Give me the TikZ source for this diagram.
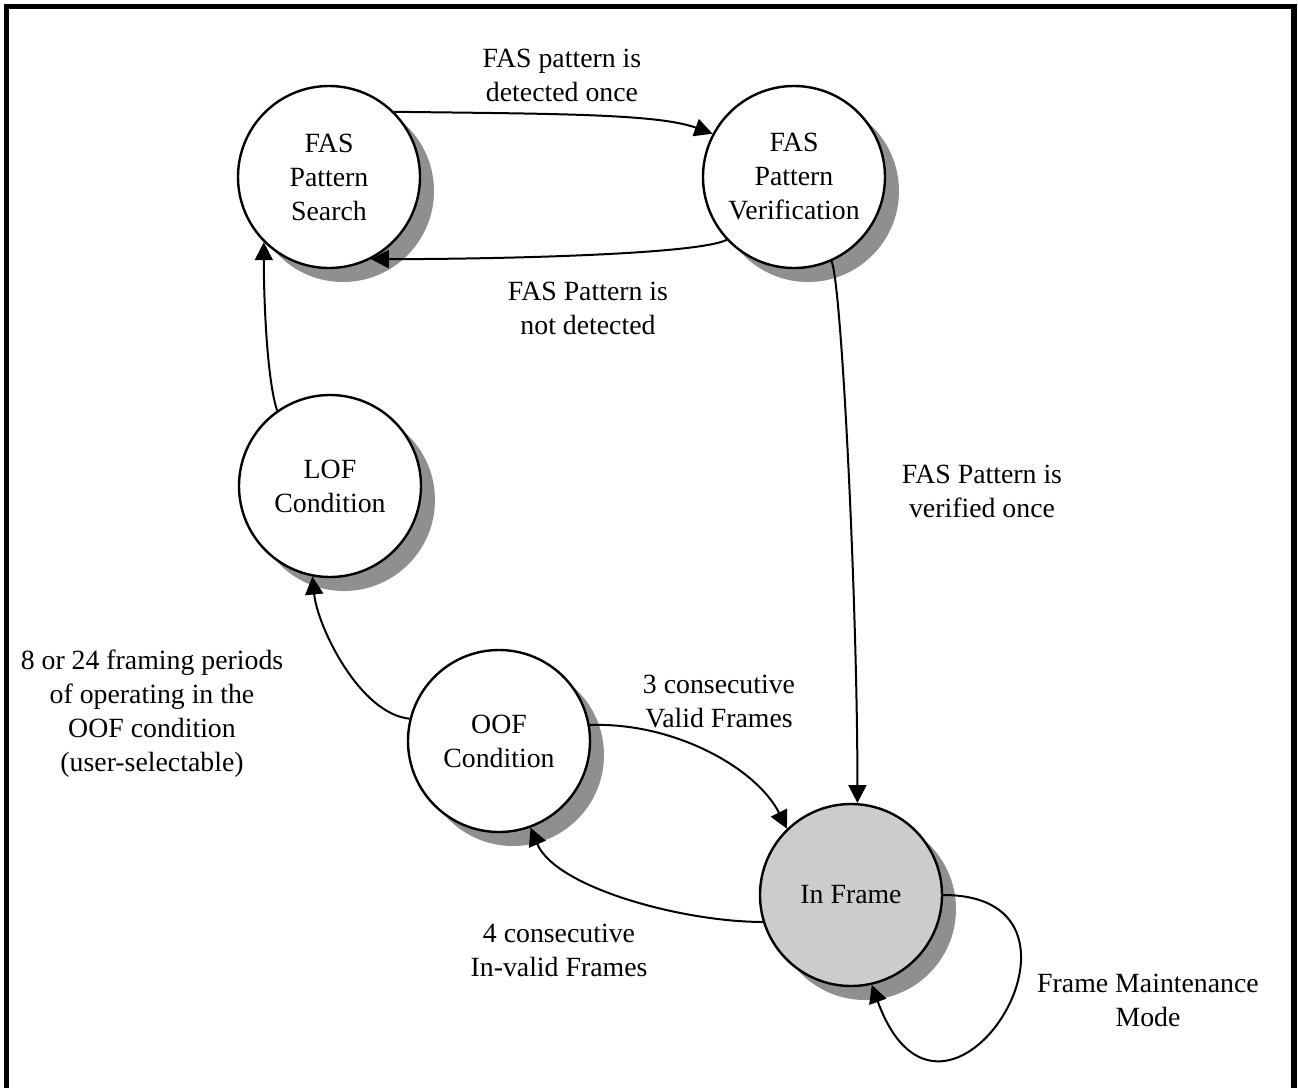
\documentclass[tikz,border=0pt]{standalone}
\usepackage{fontspec}
\setmainfont{Liberation Serif}
\usetikzlibrary{arrows.meta, shadows}
\definecolor{shadowgray}{gray}{0.56}
\definecolor{syncgray}{gray}{0.8}

\begin{document}
\begin{tikzpicture}[x=0.5pt, y=-0.5pt, >={Triangle[length=9pt, width=9pt]},
    every node/.append style={font=\fontsize{13.9}{17}\selectfont},
    state/.style={circle, draw, line width=1.2pt, fill=white, minimum size=91pt, inner sep=0pt, align=center,
        drop shadow={shadow xshift=7pt, shadow yshift=-7pt, fill=shadowgray, opacity=1}},
    link/.style={->, line width=1pt},
    lbl/.style={align=center}]
    \useasboundingbox (0,0) rectangle (1298,1088);
    \draw[line width=2.6pt] (6.5,1088) -- (6.5,6.5) -- (1294,6.5) -- (1294,1088);

    % states
    \node[state] (search) at (329,177) {FAS\\Pattern\\Search};
    \node[state] (verify) at (794,177) {FAS\\Pattern\\Verification};
    \node[state] (lof) at (330,486) {LOF\\Condition};
    \node[state] (oof) at (499,741) {OOF\\Condition};
    \node[state, fill=syncgray] (inframe) at (851,895) {In Frame};

    % transitions
    \draw[link] (search.45) .. controls +(160,2) and +(-55,-20) .. (verify.152);
    \draw[link] (verify.223) .. controls +(-30,15) and +(120,0) .. (search.-63);
    \draw[link] (verify.-66) .. controls +(10,20) and +(0,-200) .. (inframe.86);
    \draw[link] (oof.10) .. controls +(85,-3) and +(-30,-60) .. (inframe.134);
    \draw[link] (inframe.197) .. controls +(-80,0) and +(25,60) .. (oof.-70);
    \draw[link] (oof.166) .. controls +(-50,-5) and +(5,50) .. (lof.-101);
    \draw[link] (lof.125) .. controls +(-10,-30) and +(0,60) .. (search.225);
    \draw[link] (inframe.east) .. controls +(180,0) and +(72,198) .. (inframe.-77);

    % labels
    \node[lbl] (tdetect) at (562,75) {FAS pattern is\\detected once};
    \node[lbl] (tmiss) at (588,308) {FAS Pattern is\\not detected};
    \node[lbl] (tverify) at (982,491) {FAS Pattern is\\verified once};
    \node[lbl] (tlof) at (152,714) {8 or 24 framing periods\\of operating in the\\OOF condition\\(user-selectable)};
    \node[lbl] (tvalid) at (719,701) {3 consecutive\\Valid Frames};
    \node[lbl] (tinvalid) at (559,950) {4 consecutive\\In-valid Frames};
    \node[lbl] (tkeep) at (1148,1000) {Frame Maintenance\\Mode};
\end{tikzpicture}
\end{document}
